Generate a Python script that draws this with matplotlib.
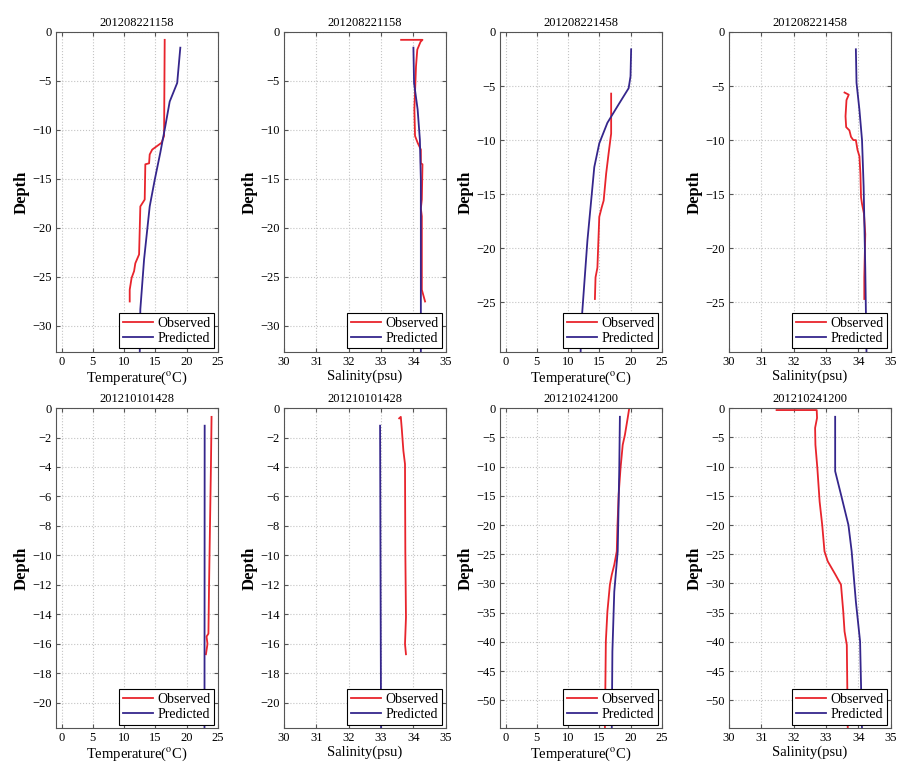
import numpy as np
import matplotlib
matplotlib.use('Agg')
import matplotlib.pyplot as plt

plt.rcParams['font.family'] = ['Liberation Serif', 'DejaVu Serif']
plt.rcParams['mathtext.fontset'] = 'stix'

# station ids
titles = ['201208221158', '201208221158', '201208221458', '201208221458',
          '201210101428', '201210101428', '201210241200', '201210241200']

# 201208221158 temperature
t1_obs_x = [16.5, 16.4, 16.0, 14.5, 14.1, 14.0, 13.4, 13.3, 12.9, 12.6, 12.4, 11.8, 11.6, 11.2, 10.9, 10.9]
t1_obs_z = [-0.8, -10.6, -11.3, -12.0, -12.5, -13.4, -13.5, -17.1, -17.5, -17.8, -22.7, -23.6, -24.4, -25.1, -26.3, -27.5]
t1_pre_x = [19.0, 18.5, 17.3, 16.6, 15.8, 14.9, 14.1, 13.2, 12.6, 12.5]
t1_pre_z = [-1.6, -5.2, -7.1, -9.6, -12.3, -15.1, -17.8, -23.2, -28.3, -33.0]

# 201208221158 salinity
s1_obs_x = [33.62, 34.28, 34.22, 34.12, 34.08, 34.03, 34.05, 34.13, 34.23, 34.23, 34.28, 34.26, 34.23, 34.26, 34.26, 34.36]
s1_obs_z = [-0.8, -0.8, -1.0, -1.8, -3.5, -7.9, -10.6, -11.3, -12.0, -13.4, -13.5, -17.1, -18.0, -18.8, -26.3, -27.5]
s1_pre_x = [34.0, 34.02, 34.13, 34.2, 34.23, 34.23]
s1_pre_z = [-1.6, -5.2, -7.9, -11.0, -15.1, -33.0]

# 201208221458 temperature
t2_obs_x = [16.9, 16.9, 16.5, 16.1, 15.7, 15.4, 15.0, 14.7, 14.4, 14.3]
t2_obs_z = [-5.7, -9.4, -11.2, -13.1, -15.6, -16.2, -17.1, -21.8, -22.7, -24.7]
t2_pre_x = [20.1, 20.0, 19.7, 18.2, 16.3, 15.0, 14.2, 13.7, 13.1, 12.6, 12.1, 12.0]
t2_pre_z = [-1.6, -4.1, -5.2, -6.6, -8.4, -10.3, -12.5, -15.6, -19.3, -23.3, -27.3, -30.0]

# 201208221458 salinity
s2_obs_x = [33.57, 33.7, 33.63, 33.6, 33.62, 33.72, 33.77, 33.84, 33.92, 33.97, 34.03, 34.06, 34.08, 34.11, 34.17, 34.21, 34.18, 34.18]
s2_obs_z = [-5.6, -5.8, -6.3, -7.8, -8.8, -9.1, -9.7, -10.0, -10.0, -10.9, -11.5, -13.1, -15.3, -15.9, -16.8, -18.7, -22.7, -24.7]
s2_pre_x = [33.92, 33.94, 34.03, 34.11, 34.16, 34.21, 34.25]
s2_pre_z = [-1.6, -4.7, -7.2, -10.0, -14.3, -21.8, -30.0]

# 201210101428 temperature
t3_obs_x = [24.0, 23.9, 23.75, 23.6, 23.5, 23.2, 23.35, 23.1]
t3_obs_z = [-0.6, -4.0, -8.0, -12.0, -15.3, -15.5, -16.0, -16.7]
t3_pre_x = [22.9, 22.87]
t3_pre_z = [-1.2, -22.0]

# 201210101428 salinity
s3_obs_x = [33.56, 33.61, 33.64, 33.69, 33.74, 33.75, 33.77, 33.74, 33.77]
s3_obs_z = [-0.7, -0.6, -1.4, -2.9, -3.8, -9.7, -14.2, -16.0, -16.7]
s3_pre_x = [32.97, 33.0]
s3_pre_z = [-1.2, -22.0]

# 201210241200 temperature
t4_obs_x = [19.8, 19.55, 19.1, 18.75, 18.4, 18.1, 17.9, 17.8, 17.4, 17.0, 16.7, 16.3, 16.05, 15.9]
t4_obs_z = [0.0, -1.7, -4.6, -6.3, -10.3, -14.8, -20.5, -24.5, -26.8, -28.5, -30.2, -34.8, -39.9, -55.0]
t4_pre_x = [18.3, 18.2, 17.95, 17.4, 17.1, 17.0]
t4_pre_z = [-1.5, -10.3, -24.5, -31.4, -41.6, -55.0]

# 201210241200 salinity
s4_obs_x = [31.47, 32.71, 32.72, 32.66, 32.67, 32.73, 32.8, 32.88, 32.95, 33.05, 33.29, 33.46, 33.53, 33.57, 33.64, 33.67]
s4_obs_z = [-0.35, -0.35, -1.7, -3.4, -6.3, -10.3, -16.0, -20.0, -24.5, -26.2, -28.5, -30.2, -34.8, -38.2, -40.5, -55.0]
s4_pre_x = [33.28, 33.28, 33.46, 33.69, 33.79, 33.92, 34.05, 34.11]
s4_pre_z = [-1.5, -10.8, -14.8, -20.0, -24.5, -33.1, -39.9, -55.0]

obs = [(t1_obs_x, t1_obs_z), (s1_obs_x, s1_obs_z), (t2_obs_x, t2_obs_z), (s2_obs_x, s2_obs_z),
       (t3_obs_x, t3_obs_z), (s3_obs_x, s3_obs_z), (t4_obs_x, t4_obs_z), (s4_obs_x, s4_obs_z)]
pre = [(t1_pre_x, t1_pre_z), (s1_pre_x, s1_pre_z), (t2_pre_x, t2_pre_z), (s2_pre_x, s2_pre_z),
       (t3_pre_x, t3_pre_z), (s3_pre_x, s3_pre_z), (t4_pre_x, t4_pre_z), (s4_pre_x, s4_pre_z)]

ylims = [-32.65, -32.65, -29.6, -29.6, -21.7, -21.7, -54.7, -54.7]
ysteps = [5, 5, 5, 5, 2, 2, 5, 5]

red = '#e8242c'
blue = '#35268c'

fig = plt.figure(figsize=(9.09, 7.71), dpi=100)
lefts = [0.0616, 0.3124, 0.5500, 0.8020]
bottoms = [0.5435, 0.0558]
w, h = 0.178, 0.415

for i in range(8):
    r, c = divmod(i, 4)
    ax = fig.add_axes([lefts[c], bottoms[r], w, h])
    ax.plot(obs[i][0], obs[i][1], color=red, lw=1.3, label='Observed')
    ax.plot(pre[i][0], pre[i][1], color=blue, lw=1.3, label='Predicted')
    temp = (c % 2 == 0)
    if temp:
        ax.set_xlim(-0.9, 25)
        ax.set_xticks([0, 5, 10, 15, 20, 25])
        ax.set_xlabel('Temperature(${}^{\\mathrm{o}}$C)', fontsize=10.5, labelpad=1)
    else:
        ax.set_xlim(30, 35)
        ax.set_xticks([30, 31, 32, 33, 34, 35])
        ax.set_xlabel('Salinity(psu)', fontsize=10.5, labelpad=1)
    ax.set_ylim(ylims[i], 0)
    ax.set_yticks(np.arange(0, ylims[i], -ysteps[i]))
    ax.set_ylabel('Depth', fontsize=12, fontweight='bold', labelpad=2)
    ax.set_title(titles[i], fontsize=9, pad=4)
    ax.grid(True, linestyle=':', color='#c4c4c4', lw=0.8)
    ax.tick_params(direction='in', top=True, right=True, labelsize=9, length=3, color='#555555', pad=3)
    for sp in ax.spines.values():
        sp.set_color('#555555')
    leg = ax.legend(loc='lower right', fontsize=10, fancybox=False, framealpha=1,
                    edgecolor='black', borderaxespad=0.25, handlelength=2.2,
                    handletextpad=0.3, borderpad=0.25, labelspacing=0.15)
    leg.get_frame().set_linewidth(0.8)

fig.savefig('out.png', dpi=100)
